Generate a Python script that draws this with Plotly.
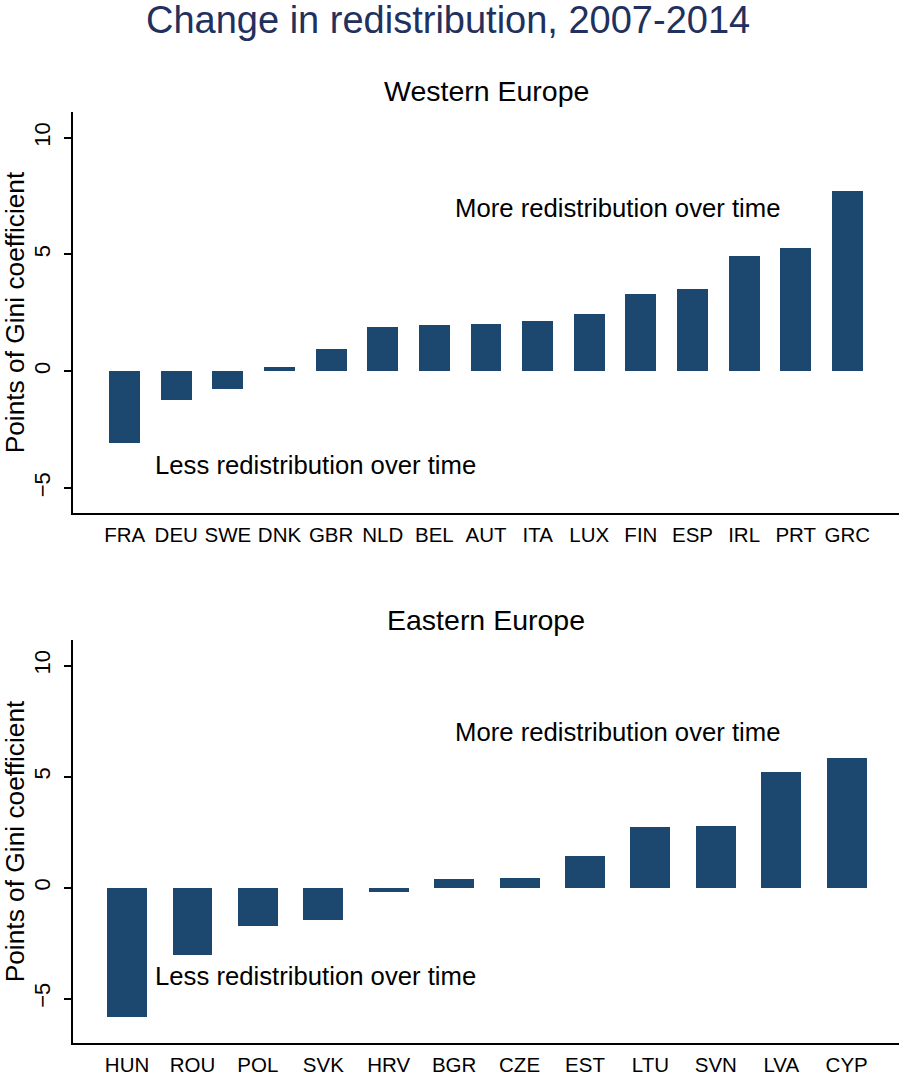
import plotly.graph_objects as go

# data (points of Gini coefficient)
west_countries = ["FRA", "DEU", "SWE", "DNK", "GBR", "NLD", "BEL", "AUT",
                  "ITA", "LUX", "FIN", "ESP", "IRL", "PRT", "GRC"]
west_values = [-3.08, -1.25, -0.77, 0.2, 0.97, 1.88, 1.97, 2.01,
               2.15, 2.47, 3.32, 3.53, 4.94, 5.29, 7.72]

east_countries = ["HUN", "ROU", "POL", "SVK", "HRV", "BGR", "CZE", "EST",
                  "LTU", "SVN", "LVA", "CYP"]
east_values = [-5.81, -3.06, -1.74, -1.45, -0.18, 0.39, 0.42, 1.43,
               2.73, 2.79, 5.22, 5.85]

yticks = [-5, 0, 5, 10]

title_text = "Change in redistribution, 2007-2014"
panel_titles = ["Western Europe", "Eastern Europe"]
y_title = "Points of Gini coefficient"
more_text = "More redistribution over time"
less_text = "Less redistribution over time"

bar_color = "#1c476f"
font_family = "Liberation Sans, Arial, sans-serif"

fig = go.Figure()
fig.add_trace(go.Bar(x=west_countries, y=west_values, marker_color=bar_color,
                     marker_line_width=0, width=0.6, xaxis="x", yaxis="y",
                     showlegend=False))
fig.add_trace(go.Bar(x=east_countries, y=east_values, marker_color=bar_color,
                     marker_line_width=0, width=0.61, xaxis="x2", yaxis="y2",
                     showlegend=False))

xaxis_style = dict(showline=True, linecolor="black", linewidth=1.5,
                   ticks="", showgrid=False, zeroline=False, automargin=False,
                   tickfont=dict(size=20.5, color="black"),
                   ticklabelstandoff=3)
yaxis_style = dict(showline=True, linecolor="black", linewidth=1.5,
                   ticks="outside", ticklen=7, tickwidth=1.5, tickcolor="black",
                   tickvals=yticks, tickangle=-90, showgrid=False, zeroline=False,
                   automargin=False, ticklabelstandoff=5,
                   tickfont=dict(size=22, color="black"),
                   title=dict(text=y_title, font=dict(size=26.3, color="black"),
                              standoff=4))

fig.update_layout(
    width=899, height=1078,
    margin=dict(l=73, r=0, t=0, b=0),
    paper_bgcolor="white", plot_bgcolor="white",
    font=dict(family=font_family, color="black"),
    bargap=0,
    xaxis=dict(xaxis_style, domain=[0, 1], range=[-1.0, 15.0], anchor="y"),
    yaxis=dict(yaxis_style, domain=[0.5241, 0.8961], range=[-6.07, 11.1], anchor="x"),
    xaxis2=dict(xaxis_style, domain=[0, 1], range=[-0.826, 11.8], anchor="y2"),
    yaxis2=dict(yaxis_style, domain=[0.0325, 0.4063], range=[-7.0, 11.15], anchor="x2"),
)

annotations = [
    dict(text=title_text, x=0.454, xref="paper", xanchor="center",
         y=1 - 20 / 1078, yref="paper", yanchor="middle",
         font=dict(size=38, color="#22305e"), showarrow=False),
    dict(text=panel_titles[0], x=0.5, xref="x domain", xanchor="center",
         y=1 - 91 / 1078, yref="paper", yanchor="middle",
         font=dict(size=28.5), showarrow=False),
    dict(text=panel_titles[1], x=0.5, xref="x2 domain", xanchor="center",
         y=1 - 620 / 1078, yref="paper", yanchor="middle",
         font=dict(size=28.5), showarrow=False),
]
for xr, yr in [("x", "y"), ("x2", "y2")]:
    annotations.append(dict(text=more_text, x=0.46, xref=xr + " domain", xanchor="left",
                            y=7, yref=yr, yanchor="middle",
                            font=dict(size=25.7), showarrow=False))
    annotations.append(dict(text=less_text, x=0.097, xref=xr + " domain", xanchor="left",
                            y=-4, yref=yr, yanchor="middle",
                            font=dict(size=25.7), showarrow=False))
fig.update_layout(annotations=annotations)

# remove the default page margin so the figure sits at the window's corner
fig.write_html("out.html", config={"displayModeBar": False},
               post_script="document.body.style.margin='0';")
